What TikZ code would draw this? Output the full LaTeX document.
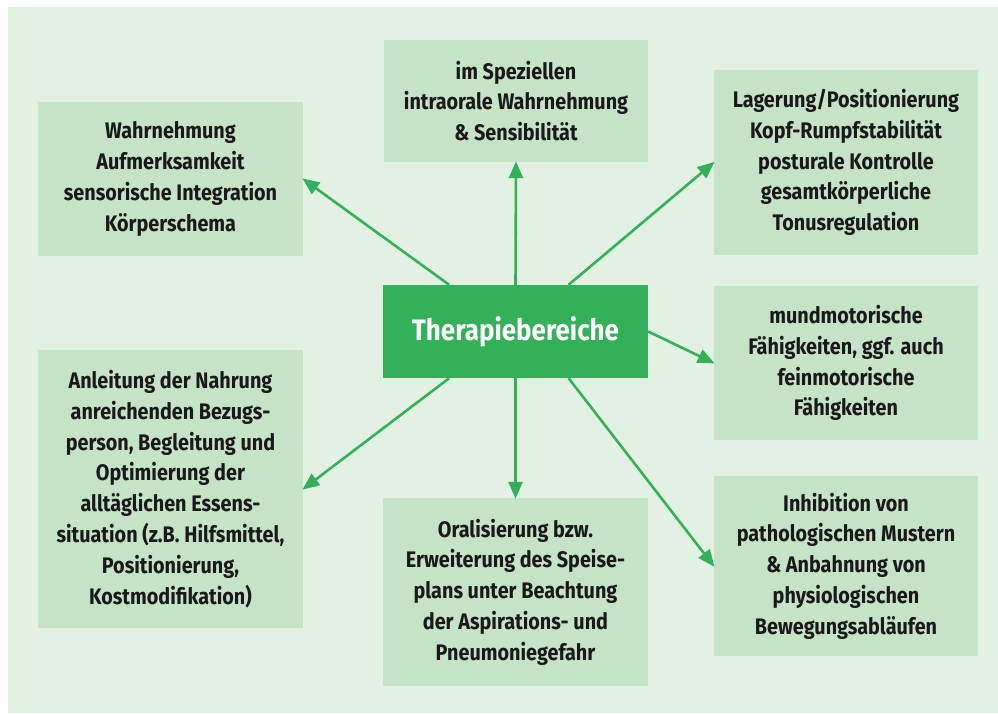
\documentclass[tikz,border=0pt]{standalone}
\usepackage{fontspec}
\setmainfont{Fira Sans Bold}[FakeStretch=0.88]
\usetikzlibrary{arrows.meta,calc}
\definecolor{panel}{HTML}{E3F1E3}
\definecolor{boxfill}{HTML}{C5E3C6}
\definecolor{hub}{HTML}{34B05A}
\begin{document}
\begin{tikzpicture}[x=1pt,y=-1pt,
  topic/.style={fill=boxfill, inner sep=0pt, align=center, text=black!90,
    font=\fontsize{22.5}{30.8}\selectfont},
  hubbox/.style={fill=hub, inner sep=0pt, align=center, text=white,
    font=\fontsize{29.5}{34}\selectfont},
  link/.style={draw=hub, line width=2.6pt,
    -{Triangle[length=17pt,width=14pt]}, shorten >=-1pt}]
\useasboundingbox (0,0) rectangle (998,713);
\fill[panel] (8,7) rectangle (998,713);

% central hub
\node[hubbox, minimum width=265pt, minimum height=93pt] (c) at (515.5,331.5) {Therapiebereiche};

% surrounding topics
\node[topic, minimum width=265pt, minimum height=154pt] (b1) at (170.5,179)
  {Wahrnehmung\\Aufmerksamkeit\\sensorische Integration\\Körperschema};
\node[topic, minimum width=264pt, minimum height=122pt] (b2) at (516,101)
  {im Speziellen\\intraorale Wahrnehmung\\\& Sensibilität};
\node[topic, minimum width=264pt, minimum height=185pt] (b3) at (846,162.5)
  {Lagerung/Positionierung\\Kopf-Rumpfstabilität\\posturale Kontrolle\\gesamtkörperliche\\Tonusregulation};
\node[topic, minimum width=264pt, minimum height=154pt] (b4) at (846,363)
  {mundmotorische\\Fähigkeiten, ggf. auch\\feinmotorische\\Fähigkeiten};
\node[topic, minimum width=265pt, minimum height=278pt] (b5) at (170.5,489)
  {Anleitung der Nahrung\\anreichenden Bezugs-\\person, Begleitung und\\Optimierung der\\alltäglichen Essens-\\situation (z.B. Hilfsmittel,\\Positionierung,\\Kostmodifikation)};
\node[topic, minimum width=265pt, minimum height=188pt] (b6) at (515.5,592)
  {Oralisierung bzw.\\Erweiterung des Speise-\\plans unter Beachtung\\der Aspirations- und\\Pneumoniegefahr};
\node[topic, minimum width=264pt, minimum height=180pt] (b7) at (846,566)
  {Inhibition von\\pathologischen Mustern\\\& Anbahnung von\\physiologischen\\Bewegungsabläufen};

% connector start points on the hub
\coordinate (nl) at ($(c.north west)!0.25!(c.north east)$);
\coordinate (nr) at ($(c.north west)!0.70!(c.north east)$);
\coordinate (sl) at ($(c.south west)!0.25!(c.south east)$);
\coordinate (sr) at ($(c.south west)!0.70!(c.south east)$);
\coordinate (er) at ($(c.north east)!0.5!(c.south east)$);

\draw[link] (nl) -- (b1.east);
\draw[link] (c.north) -- (b2.south);
\draw[link] (nr) -- (b3.west);
\draw[link] (er) -- (b4.west);
\draw[link] (sl) -- (b5.east);
\draw[link] (c.south) -- (b6.north);
\draw[link] (sr) -- (b7.west);
\end{tikzpicture}
\end{document}
